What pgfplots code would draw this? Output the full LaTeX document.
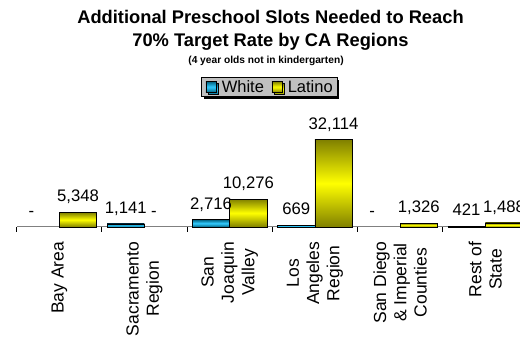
\documentclass[border=0pt]{standalone}
\usepackage{fontspec}
\setmainfont{Liberation Sans}
\usepackage{pgfplots}
\pgfplotsset{compat=1.18}
\usetikzlibrary{shadows}

\definecolor{whiteedge}{HTML}{00617F}
\definecolor{whitemid}{HTML}{33CCFF}
\definecolor{latedge}{HTML}{808000}
\definecolor{latmid}{HTML}{FFFF00}
\definecolor{axisgray}{HTML}{808080}
\definecolor{leggray}{HTML}{C0C0C0}

\pgfplotsset{
  barbase/.style={ybar, bar width=37.4pt, draw=black, line width=0.6pt,
    forget plot, nodes near coords={\pgfmathprintnumber{\pgfplotspointmeta}},
    point meta=y},
  % each bar is its own plot, so that every bar carries its own gradient
  whitebar/.style={barbase, bar shift=-18.7pt,
    top color=whiteedge, bottom color=whiteedge, middle color=whitemid,
    every node near coord/.append style={xshift=-18.7pt}},
  latbar/.style={barbase, bar shift=18.7pt,
    top color=latedge, bottom color=latedge, middle color=latmid,
    every node near coord/.append style={xshift=18.7pt}},
  dash/.style={forget plot, draw=none, mark=none, nodes near coords={-}},
}

\begin{document}
\begin{tikzpicture}
\useasboundingbox (0,0) rectangle (520pt,337pt);
\clip (0,0) rectangle (520pt,337pt);

% titles
\node[anchor=base, inner sep=0pt, font=\fontsize{18.3}{22}\selectfont\bfseries]
  at (270.5pt,313.7pt) {Additional Preschool Slots Needed to Reach};
\node[anchor=base, inner sep=0pt, font=\fontsize{18.3}{22}\selectfont\bfseries]
  at (270.5pt,290.3pt) {70\% Target Rate by CA Regions};
\node[anchor=base, inner sep=0pt, font=\fontsize{10.2}{12}\selectfont\bfseries]
  at (266pt,273.5pt) {(4 year olds not in kindergarten)};

\begin{axis}[
  at={(16.7pt,110pt)}, anchor=south west,
  scale only axis, width=511.2pt, height=98pt,
  xmin=-0.5, xmax=5.5, ymin=0, ymax=36000,
  clip=false,
  axis x line*=bottom, axis y line=none,
  x axis line style={-, draw=axisgray, line width=1pt},
  xtick={0,...,5},
  xticklabels={Bay Area,{Sacramento\\Region},{San\\Joaquin\\Valley},{Los\\Angeles\\Region},{San Diego\\\& Imperial\\Counties},{Rest of\\State}},
  major tick length=0pt,
  minor xtick={-0.5,0.5,...,5.5},
  minor tick length=5pt,
  tick align=outside,
  minor x tick style={black, line width=0.8pt},
  xticklabel shift=14.5pt,
  xticklabel style={rotate=90, anchor=east, align=center, inner sep=0pt,
    font=\fontsize{17.5}{20.3}\selectfont},
  /pgf/number format/.cd, fixed, precision=0, 1000 sep={,}, assume math mode=true,
  /pgfplots/.cd,
  legend columns=2,
  legend style={at={(0.4939,1.4286)}, anchor=center, draw=black, fill=leggray,
    line width=0.8pt, inner xsep=4.3pt, inner ysep=1.6pt,
    drop shadow={shadow xshift=2.3pt, shadow yshift=-2.3pt, fill=black, opacity=1},
    font=\fontsize{16.5}{19}\selectfont,
    nodes={inner xsep=0pt, inner ysep=1pt},
    /tikz/every odd column/.append style={column sep=5.6pt},
    /tikz/every even column/.append style={column sep=7.6pt}},
  legend image code/.code={\draw[#1, line width=0.6pt] (0pt,-5.5pt) rectangle (10pt,5.5pt);},
  every node near coord/.append style={anchor=base, inner sep=0pt, yshift=10.5pt,
    font=\fontsize{16.7}{20}\selectfont, text=black},
]

% White
\addplot[whitebar] coordinates {(1,1141)};
\addplot[whitebar] coordinates {(2,2716)};
\addplot[whitebar] coordinates {(3,669)};
\addplot[whitebar] coordinates {(5,421)};

% Latino
\addplot[latbar] coordinates {(0,5348)};
\addplot[latbar] coordinates {(2,10276)};
\addplot[latbar] coordinates {(3,32114)};
\addplot[latbar] coordinates {(4,1326)};
\addplot[latbar] coordinates {(5,1488)};

% zero values, shown as dashes
\addplot[dash, every node near coord/.append style={xshift=-28pt}]
  coordinates {(0,0) (4,0)};
\addplot[dash, every node near coord/.append style={xshift=9.4pt}]
  coordinates {(1,0)};

\addlegendimage{draw=black, top color=whiteedge, bottom color=whiteedge, middle color=whitemid}
\addlegendentry{White}
\addlegendimage{draw=black, top color=latedge, bottom color=latedge, middle color=latmid}
\addlegendentry{Latino}
\end{axis}
\end{tikzpicture}
\end{document}
